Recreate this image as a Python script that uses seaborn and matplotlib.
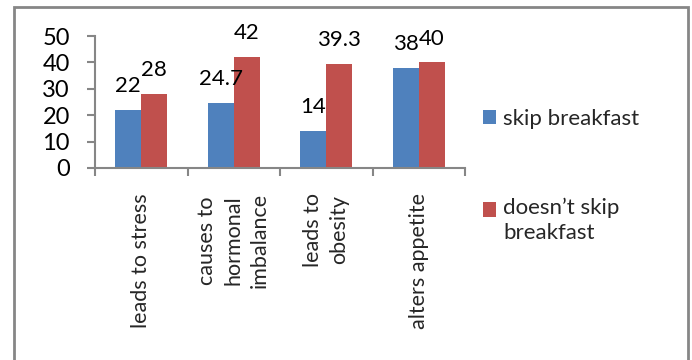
import matplotlib
matplotlib.use("Agg")
import matplotlib.pyplot as plt
from matplotlib.patches import Rectangle
from matplotlib.ticker import FixedLocator
import pandas as pd
import seaborn as sns

# Survey results: opinions about skipping breakfast
categories = ["leads to stress", "causes to\nhormonal\nimbalance", "leads to\nobesity", "alters appetite"]
series_names = ["skip breakfast", "doesn\u2019t skip\nbreakfast"]
skip_values = [22, 24.7, 14, 38]
no_skip_values = [28, 42, 39.3, 40]
y_ticks = [0, 10, 20, 30, 40, 50]

colors = ["#4F81BD", "#C0504D"]
axis_gray = "#868686"

df = pd.DataFrame({
    "category": categories * 2,
    "series": [series_names[0]] * len(categories) + [series_names[1]] * len(categories),
    "value": skip_values + no_skip_values,
})

sns.set_theme(style="white")
plt.rcParams["font.family"] = ["Lato", "DejaVu Sans"]

fig = plt.figure(figsize=(6.92, 3.60), dpi=100)
ax = fig.add_axes([95 / 692, 1 - 168 / 360, 370 / 692, 132 / 360])

sns.barplot(data=df, x="category", y="value", hue="series", order=categories,
            hue_order=series_names, palette=colors, width=0.56, gap=0,
            saturation=1, edgecolor="none", ax=ax)

for container in ax.containers:
    ax.bar_label(container, fmt="%g", padding=10, fontsize=16, color="black")

ax.set_xlim(-0.5, len(categories) - 0.5)
ax.set_ylim(0, 50)
ax.set_yticks(y_ticks)
ax.set_xlabel("")
ax.set_ylabel("")

for side in ["top", "right"]:
    ax.spines[side].set_visible(False)
for side in ["left", "bottom"]:
    ax.spines[side].set_color(axis_gray)
    ax.spines[side].set_linewidth(1.5)

ax.tick_params(axis="y", which="major", direction="out", length=6, width=1.5,
               color=axis_gray, pad=12, labelsize=17, labelcolor="black", left=True)
ax.tick_params(axis="x", which="major", length=0, pad=18)
ax.xaxis.set_minor_locator(FixedLocator([i - 0.5 for i in range(len(categories) + 1)]))
ax.tick_params(axis="x", which="minor", direction="out", length=6, width=1.5,
               color=axis_gray, bottom=True)
for lbl in ax.get_xticklabels():
    lbl.set_rotation(90)
    lbl.set_ha("center")
    lbl.set_va("top")
    lbl.set_multialignment("center")
    lbl.set_fontsize(15.5)
    lbl.set_linespacing(1.4)

leg = ax.legend(loc="upper left", bbox_to_anchor=(483 / 692, 1 - 109 / 360),
                bbox_transform=fig.transFigure, frameon=False, fontsize=16,
                handlelength=0.6, handleheight=0.6, handletextpad=0.3,
                labelspacing=3.1, borderaxespad=0, borderpad=0)
for txt in leg.get_texts():
    txt.set_linespacing(1.3)
# keep the second swatch level with the first line of its two-line label
swatch = leg.legend_handles[1]
swatch.set_y(swatch.get_y() + 8)

# outer chart frame
fig.patches.append(Rectangle((14 / 692, -0.2), 674 / 692, 1.2 - 7 / 360,
                             transform=fig.transFigure, fill=False,
                             edgecolor=axis_gray, linewidth=2))

fig.savefig("out.png", dpi=100)
